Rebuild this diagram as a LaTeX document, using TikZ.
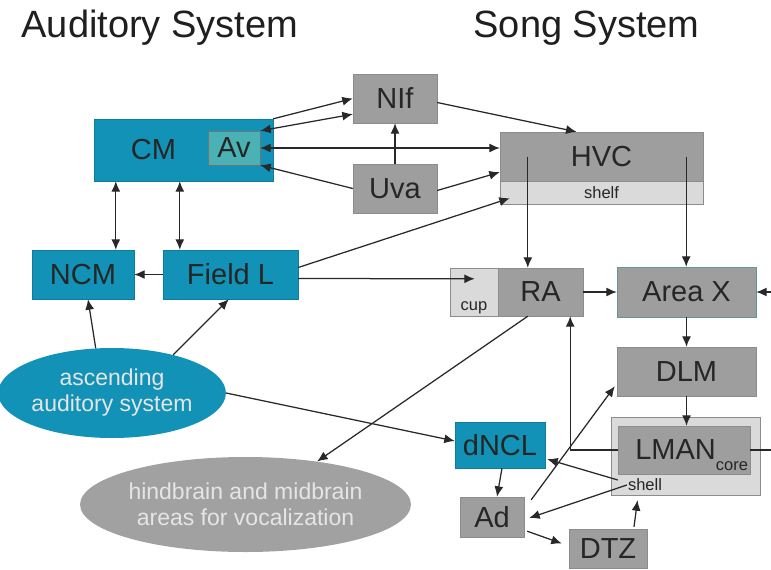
\documentclass[tikz,border=0pt]{standalone}
\usepackage{fontspec}
\setmainfont{Liberation Sans}
\usetikzlibrary{positioning, calc, shapes.geometric, arrows.meta}
\definecolor{audblue}{RGB}{18,146,182}
\definecolor{avteal}{RGB}{74,178,180}
\definecolor{boxgray}{RGB}{158,158,158}
\definecolor{shellgray}{RGB}{218,218,218}
\definecolor{linegray}{RGB}{40,40,40}
\definecolor{txtgray}{RGB}{38,38,38}
\tikzstyle{Arrow} = [
%one-way projection
line width=1.25pt, draw=linegray, ->
]
\tikzstyle{DArrow} = [
%reciprocal projection
line width=1.25pt, draw=linegray, <->
]
\tikzstyle{Line} = [line width=1.25pt, draw=linegray]

\begin{document}
\begin{tikzpicture}[x=1pt, y=-1pt, >={Latex[length=10.5pt, width=9pt]},
				auditory/.style = {rectangle, fill=audblue, draw=audblue!85!black, inner sep=0pt, text=txtgray, font=\fontsize{29}{31}\selectfont},
				song/.style = {rectangle, fill=boxgray, draw=black!45, inner sep=0pt, text=txtgray, font=\fontsize{29}{31}\selectfont},
				subregion/.style = {rectangle, fill=shellgray, draw=black!45, inner sep=0pt, text=txtgray, font=\fontsize{16.5}{18}\selectfont},
				pathway/.style = {ellipse, inner sep=0pt, text=white!90!black, align=center, font=\fontsize{23}{26}\selectfont},
				heading/.style = {anchor=base west, text=black!88, font=\fontsize{38}{40}\selectfont},
			]
			\useasboundingbox (0,0) rectangle (771,570);

			\node[heading](audtitle) at (18,37){Auditory System};
			\node[heading](songtitle) at (470,37){Song System};

			% auditory areas
			\node[auditory, minimum width=179pt, minimum height=62pt](cm) at (183.5,150){};
			\node[text=txtgray, font=\fontsize{29}{31}\selectfont](cmtext) at (153.5,150){CM};
			\node[auditory, fill=avteal, draw=black!55, minimum width=52pt, minimum height=34pt](av) at (234,148){Av};
			\node[auditory, minimum width=102pt, minimum height=49pt](ncm) at (83,274.5){NCM};
			\node[auditory, minimum width=135pt, minimum height=49pt](fieldl) at (230.5,274.5){Field L};
			\node[auditory, minimum width=90pt, minimum height=46pt](dncl) at (500,445){dNCL};
			\node[pathway, fill=audblue, minimum width=212pt, minimum height=90pt](asc) at (112,393){ascending\\auditory system};

			% song areas
			\node[song, minimum width=84pt, minimum height=49pt](nif) at (395,98.5){NIf};
			\node[song, minimum width=84pt, minimum height=49pt](uva) at (395,188.5){Uva};
			\node[song, minimum width=203pt, minimum height=49pt](hvc) at (601.5,156.5){HVC};
			\node[subregion, minimum width=203pt, minimum height=23pt](shelf) at (601.5,192.5){shelf};
			\node[subregion, minimum width=48pt, minimum height=48pt](cup) at (474,292){\raisebox{-18pt}[0pt][0pt]{cup}};
			\node[song, minimum width=85pt, minimum height=48pt](ra) at (540.5,292){RA};
			\node[song, draw=black!40!teal!60, minimum width=139pt, minimum height=50pt](areax) at (686.5,292){Area X};
			\node[song, minimum width=139pt, minimum height=49pt](dlm) at (686.5,371.5){DLM};
			\node[subregion, minimum width=149pt, minimum height=78pt](lman) at (685.5,456){};
			\node[song, minimum width=132pt, minimum height=48pt, text width=128pt, align=right](lcore) at (684,450){LMAN\raisebox{-11pt}[0pt][0pt]{\fontsize{16.5}{18}\selectfont core}};
			\node[text=txtgray, font=\fontsize{16.5}{18}\selectfont, inner sep=1pt](shell) at (645,485){shell};
			\node[song, minimum width=64pt, minimum height=40pt](ad) at (492,517){Ad};
			\node[song, minimum width=78pt, minimum height=39pt](dtz) at (608,548.5){DTZ};
			\node[pathway, fill=black!37, minimum width=325pt, minimum height=95pt](hind) at (245.5,504.5){hindbrain and midbrain\\areas for vocalization};

			\coordinate(xin) at (771,292);
			\coordinate(lout) at (771,452);

			\draw[Arrow](cm.north east)--(nif.west);
			\draw[DArrow](av.north east)--($(nif.south west)+(0,-9)$);
			\draw[DArrow](av.east)--(av.east -| hvc.west);
			\draw[Arrow](uva.west)--(av.south east);
			\draw[Arrow](uva)--(nif);
			\draw[Arrow]($(nif.east)+(0,4)$)--($(hvc.north)+(-25,0)$);
			\draw[Arrow]($(uva.east)+(0,2)$)--($(hvc.south west)+(0,-9)$);
			\draw[Arrow]($(fieldl.east)+(0,-7)$)--($(shelf.south west)+(10,-6)$);

			\draw[DArrow]($(cm.south west)+(22,0)$) coordinate(cmA)--(cmA |- ncm.north);
			\draw[DArrow]($(cm.south west)+(86,0)$) coordinate(cmB)--(cmB |- fieldl.north);
			\draw[Arrow](fieldl.west)--(ncm.east);
			\draw[Arrow](asc.110)--($(ncm.south)+(5,0)$);
			\draw[Arrow](asc.32)--($(fieldl.south west)+(66,0)$);
			\draw[Arrow](asc.east)--($(dncl.west)+(0,-4)$);
			\draw[Arrow]($(fieldl.east)+(0,4)$)--($(cup.north west)+(25,11)$);

			\draw[Arrow]($(hvc.west)+(28,0)$) coordinate(hvcA)--(hvcA |- ra.north);
			\draw[Arrow]($(hvc.east)+(-17,0)$) coordinate(hvcB)--(hvcB |- areax.north);
			\draw[Arrow](ra.east)--(areax.west);
			\draw[Arrow](xin)--(areax.east);
			\draw[Arrow](areax)--(dlm);
			\draw[Arrow](dlm.south)--(dlm.south |- lcore.north);
			\draw[Arrow](lcore.west)-|($(ra.south east)+(-13,0)$);
			\draw[Line](lcore.east)--(lcore.east -| lout);
			\draw[Arrow]($(ra.south west)+(30,0)$)--(hind.31);

			\draw[Arrow]($(dncl.south)+(2,0)$)--($(ad.north)+(5,0)$);
			\draw[Arrow]($(shell.west)+(-9,-5)$)--($(dncl.south east)+(2,-9)$);
			\draw[Arrow](shell.west)--($(ad.east)+(5,1)$);
			\draw[Arrow]($(ad.south east)+(3,-6)$)--($(dtz.west)+(-7,-5)$);
			\draw[Arrow]($(dtz.north)+(26,-2)$)--($(lman.south)+(-48,5)$);
			\draw[Arrow]($(ad.north east)+(7,3)$)--($(dlm.south west)+(-2,-10)$);

		\end{tikzpicture}
\end{document}
